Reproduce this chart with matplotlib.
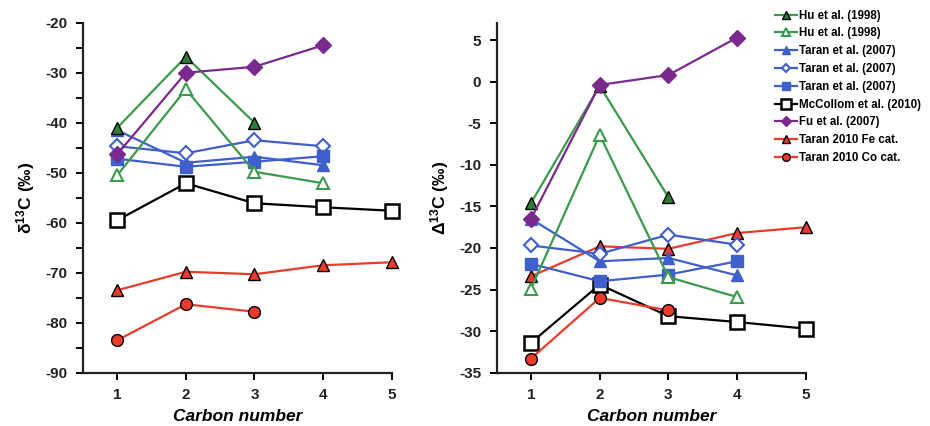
import matplotlib
matplotlib.use("Agg")
import matplotlib.pyplot as plt
from matplotlib.ticker import MultipleLocator

plt.rcParams['font.family'] = ['Liberation Sans', 'DejaVu Sans']
plt.rcParams['axes.unicode_minus'] = False
plt.rcParams['mathtext.fontset'] = 'custom'
plt.rcParams['mathtext.rm'] = 'Liberation Sans:bold'
plt.rcParams['mathtext.bf'] = 'Liberation Sans:bold'
plt.rcParams['mathtext.default'] = 'bf'

carbon = [1, 2, 3, 4, 5]

# Left panel: delta13C (permil)
hu_f_L = [-41.0, -26.8, -40.0]
hu_o_L = [-50.5, -33.3, -49.8, -52.1]
taran_t_L = [-41.5, -48.0, -46.8, -48.5]
taran_d_L = [-44.7, -46.1, -43.5, -44.7]
taran_s_L = [-47.2, -48.8, -47.8, -46.7]
mccollom_L = [-59.5, -52.1, -56.1, -56.9, -57.6]
fu_L = [-46.3, -30.0, -28.8, -24.5]
fe_L = [-73.5, -69.8, -70.3, -68.5, -67.9]
co_L = [-83.5, -76.3, -77.8]

# Right panel: Delta13C (permil)
hu_f_R = [-14.6, -0.5, -13.9]
hu_o_R = [-24.9, -6.4, -23.5, -25.9]
taran_t_R = [-16.5, -21.6, -21.2, -23.3]
taran_d_R = [-19.7, -20.7, -18.4, -19.6]
taran_s_R = [-21.9, -24.0, -23.2, -21.6]
mccollom_R = [-31.4, -24.4, -28.2, -28.9, -29.7]
fu_R = [-16.5, -0.4, 0.8, 5.3]
fe_R = [-23.4, -19.8, -20.1, -18.2, -17.5]
co_R = [-33.3, -26.0, -27.5]

labels = ["Hu et al. (1998)", "Hu et al. (1998)", "Taran et al. (2007)",
          "Taran et al. (2007)", "Taran et al. (2007)", "McCollom et al. (2010)",
          "Fu et al. (2007)", "Taran 2010 Fe cat.", "Taran 2010 Co cat."]

GREEN = '#3b9a4b'
DGREEN = '#2e7d38'
BLUE = '#3f5fcc'
PURPLE = '#7a2a8e'
RED = '#ec3b2b'

styles = [
    dict(color=GREEN, marker='^', mfc=DGREEN, mec='black', ms=8),
    dict(color=GREEN, marker='^', mfc='white', mec=GREEN, ms=9, mew=1.5),
    dict(color=BLUE, marker='^', mfc=BLUE, mec=BLUE, ms=8),
    dict(color=BLUE, marker='D', mfc='white', mec=BLUE, ms=7, mew=1.5),
    dict(color=BLUE, marker='s', mfc=BLUE, mec=BLUE, ms=8),
    dict(color='black', marker='s', mfc='white', mec='black', ms=10, mew=1.8),
    dict(color=PURPLE, marker='D', mfc=PURPLE, mec=PURPLE, ms=8),
    dict(color=RED, marker='^', mfc=RED, mec='black', ms=8),
    dict(color=RED, marker='o', mfc=RED, mec='black', ms=8.5),
]

left_series = [hu_f_L, hu_o_L, taran_t_L, taran_d_L, taran_s_L, mccollom_L, fu_L, fe_L, co_L]
right_series = [hu_f_R, hu_o_R, taran_t_R, taran_d_R, taran_s_R, mccollom_R, fu_R, fe_R, co_R]

fig = plt.figure(figsize=(9.3, 4.26), dpi=100)
axL = fig.add_axes([0.0892, 0.125, 0.332, 0.8216])
axR = fig.add_axes([0.534, 0.125, 0.3325, 0.820])

order = [5, 7, 8, 2, 3, 4, 1, 0, 6]

handles = [None] * 9
for ax, series in ((axL, left_series), (axR, right_series)):
    for i in order:
        vals = series[i]
        h, = ax.plot(carbon[:len(vals)], vals, lw=1.6, label=labels[i],
                     clip_on=False, **styles[i])
        if ax is axL:
            handles[i] = h

axL.set_xlim(0.5, 5.0)
axL.set_ylim(-90, -20)
axL.yaxis.set_major_locator(MultipleLocator(10))
axL.yaxis.set_minor_locator(MultipleLocator(5))
axR.set_xlim(0.5, 5.0)
axR.set_ylim(-35, 7)
axR.yaxis.set_major_locator(MultipleLocator(5))

for ax in (axL, axR):
    ax.set_xticks(carbon)
    for s in ('top', 'right'):
        ax.spines[s].set_visible(False)
    for s in ('left', 'bottom'):
        ax.spines[s].set_linewidth(1.6)
        ax.spines[s].set_color('#222222')
    ax.tick_params(axis='both', which='major', direction='out', length=5, width=1.4,
                   labelsize=11, pad=6)
    ax.tick_params(axis='y', which='minor', direction='out', length=5, width=1.4)
    for lab in ax.get_xticklabels() + ax.get_yticklabels():
        lab.set_fontweight('bold')
        lab.set_color('#222222')
    ax.set_xlabel('Carbon number', fontsize=12.5, fontweight='bold', fontstyle='italic',
                  labelpad=5)

axL.set_ylabel('δ$^{13}$C (‰)', fontsize=12.5, fontweight='bold', labelpad=6)
axR.set_ylabel('Δ$^{13}$C (‰)', fontsize=12.5, fontweight='bold', labelpad=6)

leg = fig.legend(handles, labels, loc='upper left', bbox_to_anchor=(0.828, 0.988),
                 frameon=False, fontsize=8.3, handlelength=1.9, handletextpad=0.2,
                 labelspacing=0.5, markerscale=0.65, borderaxespad=0)
for t in leg.get_texts():
    t.set_fontweight('bold')

fig.savefig('out.png', dpi=100)
